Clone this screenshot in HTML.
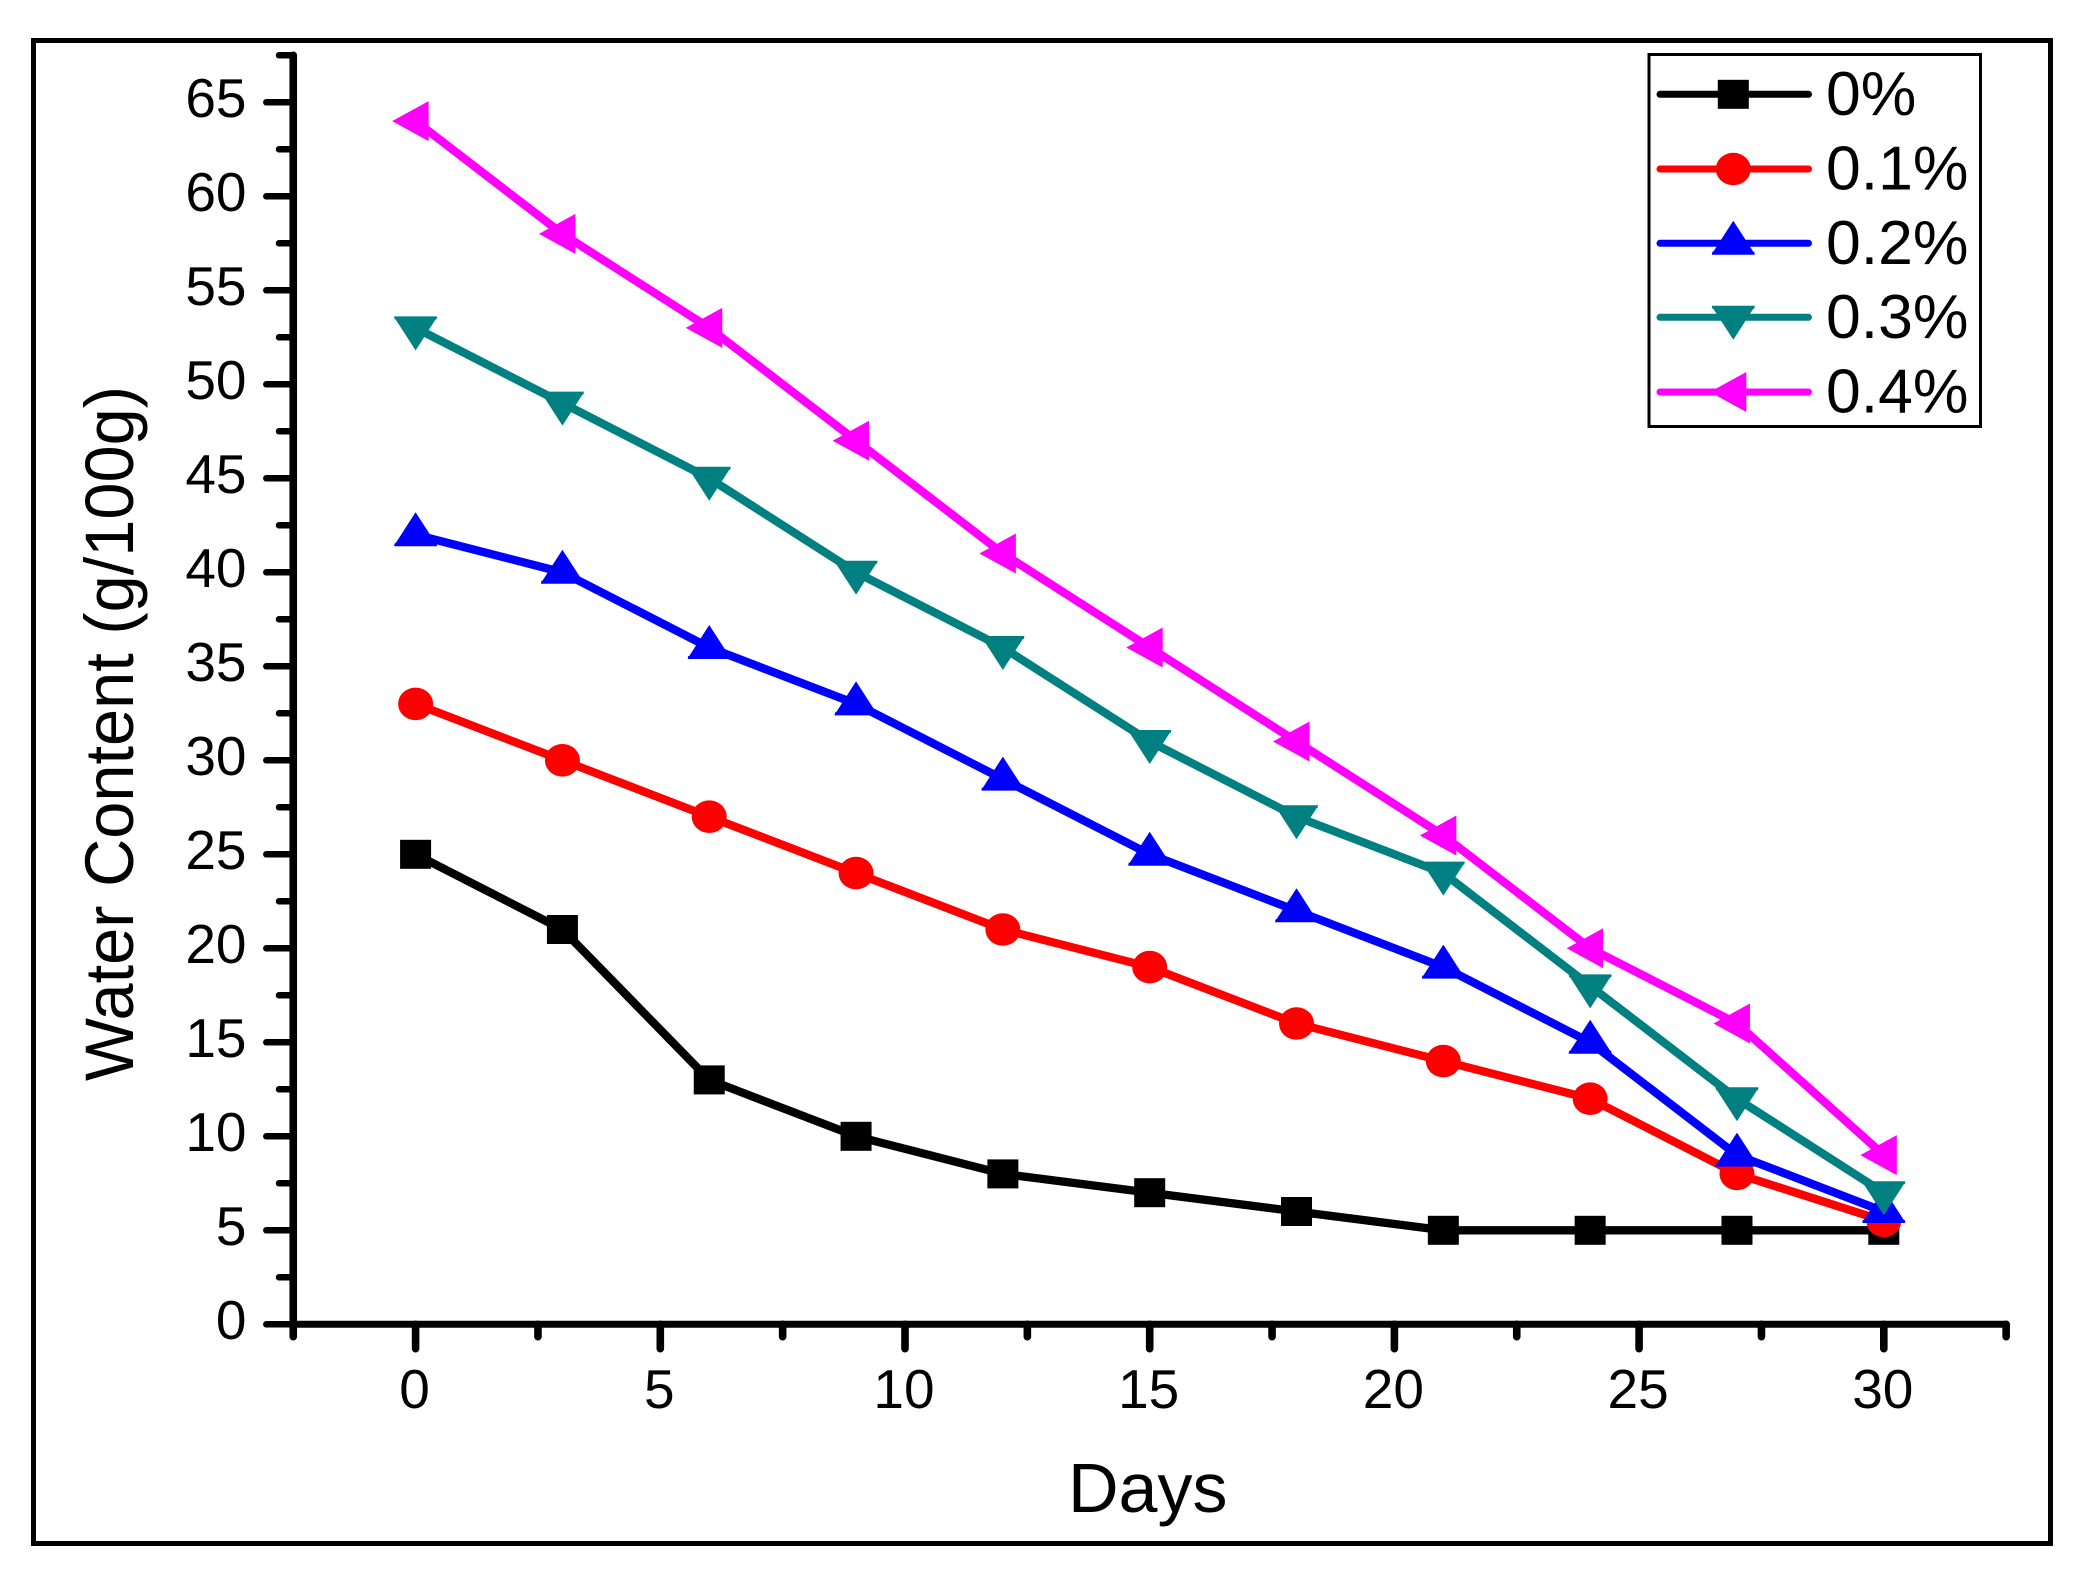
<!DOCTYPE html>
<html>
<head>
<meta charset="utf-8">
<title>Water Content vs Days</title>
<style>
html,body{margin:0;padding:0;background:#fff;width:2088px;height:1586px;overflow:hidden}
svg{display:block}
text{font-family:"Liberation Sans",Arial,sans-serif;fill:#000}
</style>
</head>
<body>
<svg id="chart" xmlns="http://www.w3.org/2000/svg" width="2088" height="1586" viewBox="0 0 2088 1586">
  <rect x="0" y="0" width="2088" height="1586" fill="#fff"/>
  <rect x="33.5" y="40.5" width="2017" height="1503" fill="none" stroke="#000" stroke-width="5"/>
  <g id="axes"></g>
  <g id="series"></g>
  <text x="1068" y="1512" font-size="70">Days</text>
  <text transform="translate(133 1081) rotate(-90)" font-size="69" textLength="695" lengthAdjust="spacingAndGlyphs">Water Content (g/100g)</text>
  <g id="legend">
    <rect x="1649" y="54.5" width="331.5" height="372" fill="#fff" stroke="#000" stroke-width="3"/>
  </g>
</svg>
<script>
const days = [0, 3, 6, 9, 12, 15, 18, 21, 24, 27, 30];
const series0 = [25, 21, 13, 10, 8, 7, 6, 5, 5, 5, 5];
const series01 = [33, 30, 27, 24, 21, 19, 16, 14, 12, 8, 5.5];
const series02 = [42, 40, 36, 33, 29, 25, 22, 19, 15, 9, 6];
const series03 = [53, 49, 45, 40, 36, 31, 27, 24, 18, 12, 7];
const series04 = [64, 58, 53, 47, 41, 36, 31, 26, 20, 16, 9];
const seriesNames = ["0%", "0.1%", "0.2%", "0.3%", "0.4%"];
const xTickLabels = [0, 5, 10, 15, 20, 25, 30];
const xMinorTicks = [-2.5, 2.5, 7.5, 12.5, 17.5, 22.5, 27.5, 32.5];
const yTickLabels = [0, 5, 10, 15, 20, 25, 30, 35, 40, 45, 50, 55, 60, 65];
const yMinorTicks = [2.5, 7.5, 12.5, 17.5, 22.5, 27.5, 32.5, 37.5, 42.5, 47.5, 52.5, 57.5, 62.5, 67.5];

const xScale = function (v) { return 415.6 + v * 48.94; };
const yScale = function (v) { return 1324.3 - v * 18.8; };
const NS = "http://www.w3.org/2000/svg";
const axes = document.getElementById("axes");
const seriesLayer = document.getElementById("series");
const legend = document.getElementById("legend");

function make(tag, parent, props) {
  const el = document.createElementNS(NS, tag);
  for (const k in props) el.setAttribute(k, props[k]);
  parent.appendChild(el);
  return el;
}
function axisLine(x1, y1, x2, y2, w) {
  return make("line", axes, { x1: x1, y1: y1, x2: x2, y2: y2, stroke: "#000", "stroke-width": w, "stroke-linecap": "round" });
}

const yAxis = axisLine(xScale(-2.5), yScale(67.5), xScale(-2.5), yScale(0), 7.6);


const xAxis = axisLine(xScale(-2.5), yScale(0), xScale(32.5), yScale(0), 7);



yTickLabels.forEach(function (v) {
  const y = yScale(v);
  const tick = axisLine(266.3, y, xScale(-2.5), y, 6.5);
  
  
  const label = make("text", axes, { x: 246.5, y: y + 14.5, "font-size": 55, "text-anchor": "end" });
  label.textContent = String(v);
  
  
});
yMinorTicks.forEach(function (v) {
  const y = yScale(v);
  const tick = axisLine(279, y, xScale(-2.5), y, 6.5);
  
  
});
xTickLabels.forEach(function (v) {
  const x = xScale(v);
  const tick = axisLine(x, yScale(0), x, 1348.7, 7.6);
  
  
  const label = make("text", axes, { x: x - 1, y: 1408, "font-size": 55, "text-anchor": "middle" });
  label.textContent = String(v);
  
  
});
xMinorTicks.forEach(function (v) {
  const x = xScale(v);
  const tick = axisLine(x, yScale(0), x, 1336.7, 7.6);
  
  
});

function drawMarker(parent, kind, cx, cy, color) {
  if (kind === "square") {
    return make("rect", parent, { x: cx - 15.5, y: cy - 14.5, width: 31, height: 29, fill: color });
  }
  if (kind === "circle") {
    return make("ellipse", parent, { cx: cx, cy: cy, rx: 17.5, ry: 16.3, fill: color });
  }
  const shapes = {
    up: [[0, -22.5], [20, 8.5], [21, 8.5], [21.5, 11.5], [-21.5, 11.5], [-21, 8.5], [-20, 8.5]],
    down: [[0, 22.5], [20, -8.5], [21, -8.5], [21.5, -11.5], [-21.5, -11.5], [-21, -8.5], [-20, -8.5]],
    left: [[-23.5, 0], [13, -20], [13, 20]]
  };
  const pts = shapes[kind].map(function (p) { return (cx + p[0]) + "," + (cy + p[1]); }).join(" ");
  return make("polygon", parent, { points: pts, fill: color });
}

function drawSeries(values, name, color, kind) {
  const group = make("g", seriesLayer, {});
  
  
  const pts = values.map(function (v, i) { return xScale(days[i]) + "," + yScale(v); }).join(" ");
  const line = make("polyline", group, { points: pts, fill: "none", stroke: color, "stroke-width": 8.3, "stroke-linejoin": "round" });
  
  
  values.forEach(function (v, i) {
    const m = drawMarker(group, kind, xScale(days[i]), yScale(v), color);
    
    
  });
}

const seriesColors = ["#000000", "#ff0000", "#0000ff", "#008080", "#ff00ff"];
const seriesKinds = ["square", "circle", "up", "down", "left"];
const seriesValues = [series0, series01, series02, series03, series04];
seriesValues.forEach(function (vals, i) {
  drawSeries(vals, seriesNames[i], seriesColors[i], seriesKinds[i]);
});

const legendY = [94.3, 169, 243.3, 317.3, 392];
seriesNames.forEach(function (name, i) {
  const y = legendY[i];
  const entry = make("g", legend, {});
  
  
  make("line", entry, { x1: 1660, y1: y, x2: 1808.5, y2: y, stroke: seriesColors[i], "stroke-width": 7, "stroke-linecap": "round" });
  drawMarker(entry, seriesKinds[i], 1733.3, y, seriesColors[i]);
  const label = make("text", entry, { x: 1826, y: y + 20.5, "font-size": 62.5 });
  label.textContent = name;
});
</script>
</body>
</html>
